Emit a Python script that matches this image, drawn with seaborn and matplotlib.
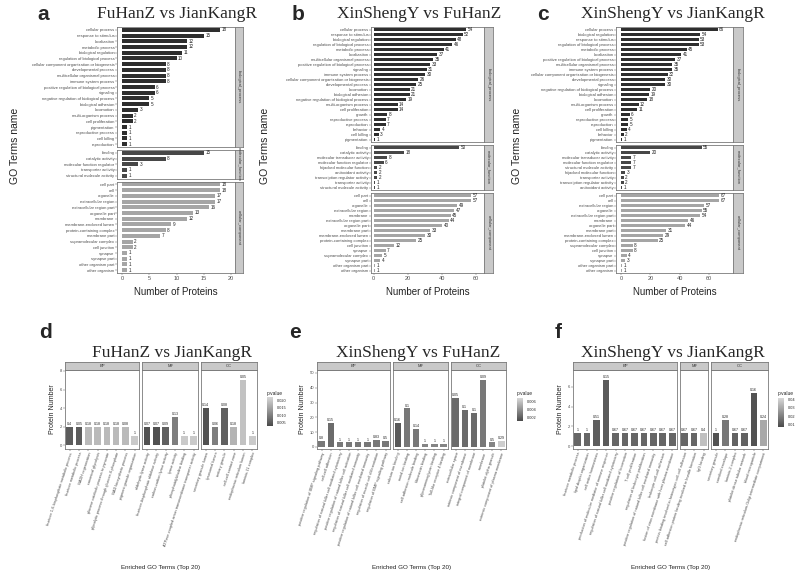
import pandas as pd
import matplotlib
matplotlib.use("Agg")
import matplotlib.pyplot as plt
import seaborn as sns
from matplotlib.colors import LinearSegmentedColormap, Normalize
from matplotlib.cm import ScalarMappable

# ---------------- top row: GO classification (a, b, c) ----------------
a_bp_terms = ["cellular process", "response to stimulus", "localization", "metabolic process",
              "biological regulation", "regulation of biological process",
              "cellular component organization or biogenesis", "developmental process",
              "multicellular organismal process", "immune system process",
              "positive regulation of biological process", "signaling",
              "negative regulation of biological process", "biological adhesion", "locomotion",
              "multi-organism process", "cell proliferation", "pigmentation",
              "reproductive process", "cell killing", "reproduction"]
a_bp_counts = [18, 15, 12, 12, 11, 10, 8, 8, 8, 8, 6, 6, 5, 5, 3, 2, 2, 1, 1, 1, 1]
a_mf_terms = ["binding", "catalytic activity", "molecular function regulator",
              "transporter activity", "structural molecule activity"]
a_mf_counts = [15, 8, 3, 1, 1]
a_cc_terms = ["cell part", "cell", "organelle", "extracellular region", "extracellular region part",
              "organelle part", "membrane", "membrane-enclosed lumen", "protein-containing complex",
              "membrane part", "supramolecular complex", "cell junction", "synapse", "synapse part",
              "other organism part", "other organism"]
a_cc_counts = [18, 18, 17, 17, 16, 13, 12, 9, 8, 7, 2, 2, 1, 1, 1, 1]

b_bp_terms = ["cellular process", "response to stimulus", "biological regulation",
              "regulation of biological process", "metabolic process", "localization",
              "multicellular organismal process", "positive regulation of biological process",
              "signaling", "immune system process", "cellular component organization or biogenesis",
              "developmental process", "locomotion", "biological adhesion",
              "negative regulation of biological process", "multi-organism process",
              "cell proliferation", "growth", "reproductive process", "reproduction", "behavior",
              "cell killing", "pigmentation"]
b_bp_counts = [54, 52, 48, 46, 41, 37, 35, 33, 31, 30, 26, 25, 21, 21, 19, 14, 14, 8, 7, 7, 4, 3, 1]
b_mf_terms = ["binding", "catalytic activity", "molecular transducer activity",
              "molecular function regulator", "hijacked molecular function", "antioxidant activity",
              "transcription regulator activity", "transporter activity",
              "structural molecule activity"]
b_mf_counts = [50, 18, 8, 6, 2, 2, 2, 1, 1]
b_cc_terms = ["cell part", "cell", "organelle", "extracellular region", "membrane",
              "extracellular region part", "organelle part", "membrane part",
              "membrane-enclosed lumen", "protein-containing complex", "cell junction", "synapse",
              "supramolecular complex", "synapse part", "other organism part", "other organism"]
b_cc_counts = [57, 57, 49, 47, 45, 44, 40, 33, 30, 25, 12, 7, 5, 4, 1, 1]

c_bp_terms = ["cellular process", "biological regulation", "response to stimulus",
              "regulation of biological process", "metabolic process", "localization",
              "positive regulation of biological process", "multicellular organismal process",
              "immune system process", "cellular component organization or biogenesis",
              "developmental process", "signaling", "negative regulation of biological process",
              "biological adhesion", "locomotion", "multi-organism process", "cell proliferation",
              "growth", "reproductive process", "reproduction", "cell killing", "behavior",
              "pigmentation"]
c_bp_counts = [66, 54, 53, 53, 45, 41, 37, 35, 35, 32, 30, 30, 20, 19, 18, 12, 11, 6, 5, 5, 4, 2, 1]
c_mf_terms = ["binding", "catalytic activity", "molecular transducer activity",
              "molecular function regulator", "structural molecule activity",
              "hijacked molecular function", "transporter activity",
              "transcription regulator activity", "antioxidant activity"]
c_mf_counts = [55, 20, 7, 7, 7, 3, 2, 2, 1]
c_cc_terms = ["cell part", "cell", "extracellular region", "organelle", "extracellular region part",
              "membrane", "organelle part", "membrane part", "membrane-enclosed lumen",
              "protein-containing complex", "supramolecular complex", "cell junction", "synapse",
              "synapse part", "other organism part", "other organism"]
c_cc_counts = [67, 67, 57, 55, 54, 46, 44, 31, 29, 25, 8, 8, 4, 3, 1, 1]

# ---------------- bottom row: enriched GO terms (d, e, f) ----------------
d_bp_terms = ["fructose 1,6-bisphosphate metabolic process", "fructose metabolic process",
              "NADH regeneration", "canonical glycolysis",
              "glucose catabolic process to pyruvate", "glycolytic process through glucose-6-phosphate",
              "NAD biosynthetic process", "pigment granule organization"]
d_bp_counts = [2, 2, 2, 2, 2, 2, 2, 1]
d_bp_labels = ["0.4", "0.05", "0.18", "0.18", "0.18", "0.18", "0.08", "1"]
d_bp_pval = [0.0055, 0.0055, 0.018, 0.018, 0.018, 0.018, 0.018, 0.020]
d_mf_terms = ["aldehyde-lyase activity", "fructose-bisphosphate aldolase activity",
              "carbon-carbon lyase activity", "lyase activity",
              "phosphatidylcholine binding",
              "ATPase-coupled anion transmembrane transporter activity"]
d_mf_counts = [2, 2, 2, 3, 1, 1]
d_mf_labels = ["0.07", "0.07", "0.09", "0.13", "1", "1"]
d_mf_pval = [0.004, 0.004, 0.006, 0.010, 0.020, 0.020]
d_cc_terms = ["secretory granule lumen", "lysosomal lumen", "tertiary granule",
              "cell-cell contact zone", "endoplasmic reticulum lumen", "laminin-11 complex"]
d_cc_counts = [4, 2, 4, 2, 7, 1]
d_cc_labels = ["0.14", "0.06", "0.08", "0.18", "0.05", "1"]
d_cc_pval = [0.004, 0.010, 0.006, 0.017, 0.019, 0.020]

e_bp_terms = ["positive regulation of BMP signaling pathway", "cell-cell adhesion",
              "regulation of natural killer cell mediated cytotoxicity",
              "positive regulation of natural killer cell activation",
              "regulation of natural killer cell mediated immunity",
              "positive regulation of natural killer cell mediated immunity",
              "regulation of muscle cell differentiation", "regulation of BMP signaling pathway"]
e_bp_counts = [4, 16, 3, 3, 3, 3, 5, 4]
e_bp_labels = ["0.8", "0.15", "1", "1", "1", "1", "0.83", "0.5"]
e_bp_pval = [0.003, 0.0025, 0.003, 0.003, 0.003, 0.003, 0.003, 0.003]
e_mf_terms = ["calcium ion binding", "metal ion binding", "cell adhesion molecule binding",
              "fibronectin binding", "glycosaminoglycan binding", "Toll-like receptor 4 binding"]
e_mf_counts = [16, 26, 12, 2, 2, 2]
e_mf_labels = ["0.16", "0.1", "0.14", "1", "1", "1"]
e_mf_pval = [0.0018, 0.003, 0.003, 0.0035, 0.0035, 0.0035]
e_cc_terms = ["extracellular space", "intrinsic component of membrane",
              "integral component of membrane", "membrane", "platelet alpha granule",
              "extrinsic component of plasma membrane"]
e_cc_counts = [33, 25, 23, 45, 3, 4]
e_cc_labels = ["0.05", "0.1", "0.1", "0.09", "0.5", "0.29"]
e_cc_pval = [0.0025, 0.0025, 0.0025, 0.003, 0.0035, 0.0064]

f_bp_terms = ["fructose metabolic process", "lipid droplet organization",
              "cell redox homeostasis", "production of molecular mediator of immune response",
              "regulation of natural killer cell mediated cytotoxicity",
              "positive regulation of locomotion", "T cell proliferation",
              "regulation of leukocyte proliferation",
              "positive regulation of natural killer cell mediated immunity",
              "leukocyte cell-cell adhesion", "fusion of virus membrane with host plasma membrane"]
f_bp_counts = [1.33, 1.33, 2.67, 6.67, 1.33, 1.33, 1.33, 1.33, 1.33, 1.33, 1.33]
f_bp_labels = ["1", "1", "0.51", "0.15", "0.67", "0.67", "0.67", "0.67", "0.67", "0.67", "0.67"]
f_bp_pval = [0.014, 0.014, 0.012, 0.011, 0.014, 0.014, 0.014, 0.014, 0.014, 0.014, 0.014]
f_mf_terms = ["protein binding involved in heterotypic cell-cell adhesion",
              "cell adhesion protein binding involved in bundle formation", "IgG binding"]
f_mf_counts = [1.33, 1.33, 1.33]
f_mf_labels = ["0.67", "0.67", "0.4"]
f_mf_pval = [0.014, 0.014, 0.036]
f_cc_terms = ["secretory granule", "cornified envelope", "laminin-2 complex",
              "platelet dense tubular network", "blood microparticle",
              "endoplasmic reticulum-Golgi intermediate compartment"]
f_cc_counts = [1.33, 2.67, 1.33, 1.33, 5.33, 2.67]
f_cc_labels = ["1", "0.28", "0.67", "0.67", "0.16", "0.24"]
f_cc_pval = [0.009, 0.018, 0.013, 0.013, 0.009, 0.030]

W, H = 800, 583
sns.set_style("white")
plt.rcParams["font.family"] = ["Liberation Sans", "DejaVu Sans"]

fig = plt.figure(figsize=(W / 100, H / 100), dpi=100)
fig.patch.set_facecolor("white")
gray_cmap = LinearSegmentedColormap.from_list("grays", ["#4a4a4a", "#d8d8d8"])


def px(x0, y0, x1, y1):
    return [x0 / W, 1 - y1 / H, (x1 - x0) / W, (y1 - y0) / H]


def frame(ax):
    for s in ax.spines.values():
        s.set_visible(True)
        s.set_color("#7a7a7a")
        s.set_linewidth(0.6)


def go_panel(x0, x1, sx1, y0, y1, facets, xlim, xticks):
    gap = 3
    total = sum(len(f[0]) for f in facets)
    unit = (y1 - y0 - gap * (len(facets) - 1)) / total
    top = y0
    for k, (terms, counts, color, strip) in enumerate(facets):
        h = unit * len(terms)
        ax = fig.add_axes(px(x0, top, x1, top + h))
        df = pd.DataFrame({"term": terms, "count": counts})
        sns.barplot(data=df, y="term", x="count", color=color, saturation=1,
                    width=0.72, linewidth=0, ax=ax)
        ax.set_ylim(len(terms) - 0.5, -0.5)
        ax.set_xlim(*xlim)
        for i, c in enumerate(counts):
            ax.text(c + 0.012 * (xlim[1] - xlim[0]), i, str(c), fontsize=3.3,
                    va="center", ha="left", color="#222222")
        ax.tick_params(axis="y", labelsize=3, length=1.2, width=0.3, pad=0.6,
                       colors="#4d4d4d", left=True)
        if k == len(facets) - 1:
            ax.set_xticks(xticks)
            ax.tick_params(axis="x", labelsize=4, length=1.5, width=0.3, pad=1,
                           colors="#4d4d4d", bottom=True)
        else:
            ax.set_xticks([])
        ax.set_xlabel("")
        ax.set_ylabel("")
        frame(ax)
        sax = fig.add_axes(px(x1, top, sx1, top + h))
        sax.set_facecolor("#c9c9c9")
        sax.set_xticks([])
        sax.set_yticks([])
        frame(sax)
        sax.text(0.5, 0.5, strip, rotation=-90, fontsize=3, ha="center", va="center",
                 color="#333333", transform=sax.transAxes)
        top += h + gap
    fig.text((x0 + x1) / 2 / W, 1 - 292 / H, "Number of Proteins", fontsize=7,
             ha="center", va="center", color="#222222")


def enrich_panel(x0, x1, y0, y1, facets, ylim, yticks, norm):
    gap = 3
    strip_h = 8
    total = sum(len(f[0]) for f in facets)
    unit = (x1 - x0 - gap * (len(facets) - 1)) / total
    left = x0
    for k, (terms, counts, labels, pvals, strip) in enumerate(facets):
        w = unit * len(terms)
        ax = fig.add_axes(px(left, y0 + strip_h, left + w, y1))
        df = pd.DataFrame({"term": terms, "count": counts})
        colors = [gray_cmap(norm(p)) for p in pvals]
        sns.barplot(data=df, x="term", y="count", hue="term",
                    palette=dict(zip(terms, colors)), legend=False, saturation=1,
                    width=0.7, linewidth=0, ax=ax)
        ax.set_xlim(-0.5, len(terms) - 0.5)
        ax.set_ylim(*ylim)
        for i, (c, lab) in enumerate(zip(counts, labels)):
            ax.text(i, c + 0.012 * (ylim[1] - ylim[0]), lab, fontsize=2.6,
                    ha="center", va="bottom", color="#222222")
        ax.set_xticks(range(len(terms)))
        ax.set_xticklabels(terms, rotation=72, ha="right", va="top",
                           rotation_mode="anchor", fontsize=2.8, color="#4d4d4d")
        ax.tick_params(axis="x", length=1.2, width=0.3, pad=0.8, bottom=True)
        if k == 0:
            ax.set_yticks(yticks)
            ax.tick_params(axis="y", labelsize=3, length=1.2, width=0.3, pad=0.8,
                           colors="#4d4d4d", left=True)
            ax.set_ylabel("Protein Number", fontsize=5, labelpad=3, color="#222222")
        else:
            ax.set_yticks([])
            ax.set_ylabel("")
        ax.set_xlabel("")
        frame(ax)
        sax = fig.add_axes(px(left, y0, left + w, y0 + strip_h))
        sax.set_facecolor("#c9c9c9")
        sax.set_xticks([])
        sax.set_yticks([])
        frame(sax)
        sax.text(0.5, 0.5, strip, fontsize=3, ha="center", va="center",
                 color="#333333", transform=sax.transAxes)
        left += w + gap
    fig.text((x0 + x1) / 2 / W, 1 - 567 / H, "Enriched GO Terms (Top 20)", fontsize=4.5,
             ha="center", va="center", color="#222222")


def colorbar(x0, y0, x1, y1, norm, ticks, fmt):
    cax = fig.add_axes(px(x0, y0, x1, y1))
    cb = fig.colorbar(ScalarMappable(norm=norm, cmap=gray_cmap), cax=cax)
    cb.set_ticks(ticks)
    cb.set_ticklabels([fmt.format(t) for t in ticks])
    cb.ax.tick_params(labelsize=2.8, length=1.5, width=0.3, color="white", pad=1)
    cb.outline.set_visible(False)
    fig.text(x0 / W, 1 - (y0 - 4) / H, "p.value", fontsize=3.5, ha="left", va="center",
             color="#222222")


def title(cx, cy, text, letter, lx, ly):
    fig.text(cx / W, 1 - cy / H, text, fontsize=12.5, family="Liberation Serif",
             ha="center", va="center")
    fig.text(lx / W, 1 - ly / H, letter, fontsize=15, fontweight="bold",
             ha="center", va="center")


# ---- panel a
go_panel(117, 235, 243, 27, 273,
         [(a_bp_terms, a_bp_counts, "#2e2e2e", "biological_process"),
          (a_mf_terms, a_mf_counts, "#474747", "molecular_function"),
          (a_cc_terms, a_cc_counts, "#a5a5a5", "cellular_component")],
         (-0.9, 20.7), [0, 5, 10, 15, 20])
title(177, 14, "FuHanZ vs JianKangR", "a", 43, 14)
fig.text(15 / W, 1 - 146 / H, "GO Terms name", rotation=90, fontsize=7.5,
         ha="center", va="center", color="#222222")

# ---- panel b
go_panel(371, 484, 493, 27, 273,
         [(b_bp_terms, b_bp_counts, "#2e2e2e", "biological_process"),
          (b_mf_terms, b_mf_counts, "#474747", "molecular_function"),
          (b_cc_terms, b_cc_counts, "#a5a5a5", "cellular_component")],
         (-1.5, 64.5), [0, 20, 40, 60])
title(419, 14, "XinShengY vs FuHanZ", "b", 298, 14)
fig.text(265 / W, 1 - 146 / H, "GO Terms name", rotation=90, fontsize=7.5,
         ha="center", va="center", color="#222222")

# ---- panel c
go_panel(616, 733, 743, 27, 273,
         [(c_bp_terms, c_bp_counts, "#2e2e2e", "biological_process"),
          (c_mf_terms, c_mf_counts, "#474747", "molecular_function"),
          (c_cc_terms, c_cc_counts, "#a5a5a5", "cellular_component")],
         (-3.4, 76.5), [0, 20, 40, 60])
title(673, 14, "XinShengY vs JianKangR", "c", 543, 14)
fig.text(517 / W, 1 - 146 / H, "GO Terms name", rotation=90, fontsize=7.5,
         ha="center", va="center", color="#222222")

# ---- panel d
d_norm = Normalize(0.003, 0.022)
enrich_panel(65, 257, 362, 449,
             [(d_bp_terms, d_bp_counts, d_bp_labels, d_bp_pval, "BP"),
              (d_mf_terms, d_mf_counts, d_mf_labels, d_mf_pval, "MF"),
              (d_cc_terms, d_cc_counts, d_cc_labels, d_cc_pval, "CC")],
             (-0.4, 8.1), [0, 2, 4, 6, 8], d_norm)
colorbar(267, 397, 273, 426, d_norm, [0.005, 0.010, 0.015, 0.020], "{:.3f}")
title(172, 353, "FuHanZ vs JianKangR", "d", 45, 333)

# ---- panel e
e_norm = Normalize(0.0012, 0.0068)
enrich_panel(317, 506, 362, 449,
             [(e_bp_terms, e_bp_counts, e_bp_labels, e_bp_pval, "BP"),
              (e_mf_terms, e_mf_counts, e_mf_labels, e_mf_pval, "MF"),
              (e_cc_terms, e_cc_counts, e_cc_labels, e_cc_pval, "CC")],
             (-1.4, 52), [0, 10, 20, 30, 40, 50], e_norm)
colorbar(517, 398, 523, 421, e_norm, [0.002, 0.004, 0.006], "{:.3f}")
title(418, 353, "XinShengY vs FuHanZ", "e", 295, 333)

# ---- panel f
f_norm = Normalize(0.007, 0.042)
enrich_panel(573, 768, 362, 449,
             [(f_bp_terms, f_bp_counts, f_bp_labels, f_bp_pval, "BP"),
              (f_mf_terms, f_mf_counts, f_mf_labels, f_mf_pval, "MF"),
              (f_cc_terms, f_cc_counts, f_cc_labels, f_cc_pval, "CC")],
             (-0.3, 7.7), [0, 2, 4, 6], f_norm)
colorbar(778, 398, 784, 427, f_norm, [0.01, 0.02, 0.03, 0.04], "{:.2f}")
title(673, 353, "XinShengY vs JianKangR", "f", 558, 333)

fig.savefig("out.png", dpi=100, facecolor="white")
